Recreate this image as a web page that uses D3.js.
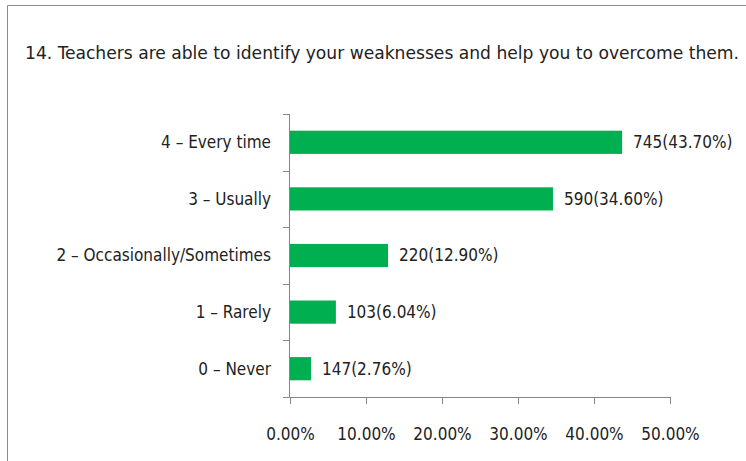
<!DOCTYPE html>
<html>
<head>
<meta charset="utf-8">
<script src="https://cdn.jsdelivr.net/npm/d3@7"></script>
<style>
  body { margin: 0; background: #fff; }
  text { font-family: "Liberation Sans Narrow", "DejaVu Sans Condensed", "Open Sans", sans-serif; fill: #222; }
</style>
</head>
<body>
<div id="chart"></div>
<script>
var width = 746;
var height = 461;

// categories, top to bottom
var categories = ['4 – Every time', '3 – Usually', '2 – Occasionally/Sometimes', '1 – Rarely', '0 – Never'];
var counts = [745, 590, 220, 103, 147];
var percents = [43.70, 34.60, 12.90, 6.04, 2.76];
var tickValues = [0, 10, 20, 30, 40, 50];

var title = '14. Teachers are able to identify your weaknesses and help you to overcome them.';

var data = categories.map(function(c, i) {
  return {category: c, count: counts[i], pct: percents[i]};
});

var margin = {top: 114, left: 290, right: 76, bottom: 64};

var svg = d3.select('#chart')
  .append('svg')
    .attr('width', width)
    .attr('height', height);

// chart frame (left + top edges visible)
svg.append('path')
  .attr('d', 'M7.5,' + height + 'V5.5H' + width)
  .attr('fill', 'none')
  .attr('stroke', '#8c8c8c')
  .attr('stroke-width', 1);

// title, fitted to the width it takes in the original
var t = svg.append('text')
  .attr('x', 25)
  .attr('y', 59)
  .style('font-size', '18.5px')
  .text(title);
var tw = t.node().getComputedTextLength();
if (tw > 714) t.style('font-size', (18.5 * 714 / tw).toFixed(2) + 'px');
t.attr('textLength', 714).attr('lengthAdjust', 'spacingAndGlyphs');

var x = d3.scaleLinear()
  .domain([0, 50])
  .range([margin.left, width - margin.right]);

var y = d3.scaleBand()
  .domain(categories)
  .range([margin.top, height - margin.bottom])
  .paddingInner(0.59)
  .paddingOuter(0.295);

var g = svg.append('g');

// bars
g.selectAll('rect')
  .data(data)
  .join('rect')
    .attr('x', x(0))
    .attr('y', d => y(d.category))
    .attr('width', d => x(d.pct) - x(0))
    .attr('height', y.bandwidth())
    .attr('fill', '#00b050');

// value labels
g.selectAll('.val')
  .data(data)
  .join('text')
    .attr('class', 'val')
    .attr('x', d => x(d.pct) + 11)
    .attr('y', d => y(d.category) + y.bandwidth() / 2)
    .attr('dy', '0.35em')
    .style('font-size', '17px')
    .text(d => d.count + '(' + d.pct.toFixed(2) + '%)');

// x axis
var xAxis = svg.append('g')
  .attr('transform', 'translate(0,' + (height - margin.bottom) + ')')
  .call(d3.axisBottom(x).tickValues(tickValues).tickSize(7).tickPadding(24)
    .tickFormat(d => d.toFixed(2) + '%'));
xAxis.select('.domain').attr('stroke', '#868686').attr('d', 'M' + x(0) + ',0.5H' + x(50));
xAxis.selectAll('line').attr('stroke', '#868686');
xAxis.selectAll('text').style('font-size', '17px').attr('fill', '#222');

// y axis: line with ticks at category boundaries
var yg = svg.append('g');
yg.append('line')
  .attr('x1', x(0) - 0.5).attr('x2', x(0) - 0.5)
  .attr('y1', margin.top).attr('y2', height - margin.bottom)
  .attr('stroke', '#868686');
var bounds = d3.range(categories.length + 1).map(i => margin.top + i * y.step());
yg.selectAll('.yt')
  .data(bounds)
  .join('line')
    .attr('class', 'yt')
    .attr('x1', x(0) - 7).attr('x2', x(0))
    .attr('y1', d => Math.round(d) + 0.5).attr('y2', d => Math.round(d) + 0.5)
    .attr('stroke', '#868686');

yg.selectAll('.cat')
  .data(categories)
  .join('text')
    .attr('class', 'cat')
    .attr('x', 271)
    .attr('y', d => y(d) + y.bandwidth() / 2)
    .attr('dy', '0.35em')
    .attr('text-anchor', 'end')
    .style('font-size', '17px')
    .text(d => d);
</script>
</body>
</html>
